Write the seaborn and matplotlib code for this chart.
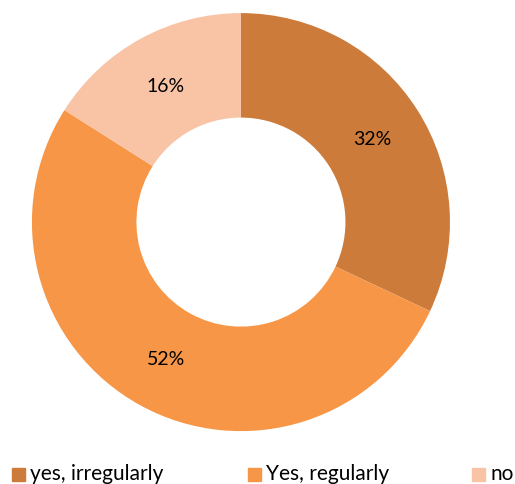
import matplotlib
matplotlib.use("Agg")
import matplotlib.pyplot as plt
from matplotlib.patches import Rectangle
import seaborn as sns

categories = ["yes, irregularly", "Yes, regularly", "no"]
values = [32, 52, 16]
colors = ["#CD7B3A", "#F79646", "#F9C3A6"]

sns.set_theme(style="white")
plt.rcParams["font.family"] = ["Lato", "DejaVu Sans"]

fig = plt.figure(figsize=(5.15, 4.85), dpi=100)
ax = fig.add_axes([0.062, 0.109, 0.8117, 0.862])
wedges, texts, autotexts = ax.pie(
    values, colors=sns.color_palette(colors), startangle=90, counterclock=False,
    autopct=lambda p: f"{p:.0f}%", pctdistance=0.745,
    wedgeprops=dict(width=0.5, edgecolor="none"),
    textprops=dict(fontsize=14, color="#000000"))
ax.set_xlim(-1, 1)
ax.set_ylim(-1, 1)
ax.set_aspect("equal")
ax.axis("off")

W, H = 515, 485
sq_x = [12, 248, 472]
for x, lab, c in zip(sq_x, categories, colors):
    fig.patches.append(Rectangle((x / W, (H - 482) / H), 13 / W, 13 / H,
                                 transform=fig.transFigure, color=c, figure=fig))
    fig.text((x + 18) / W, (H - 480) / H, lab, fontsize=15, va="baseline",
             ha="left", color="#000000")

fig.savefig("out.png", dpi=100)
